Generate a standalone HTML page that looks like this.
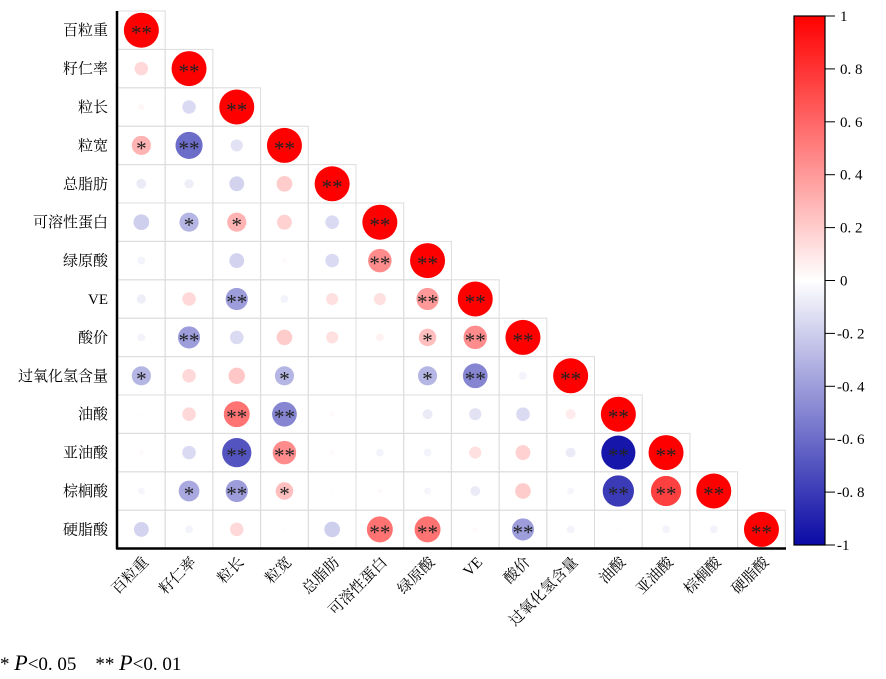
<!DOCTYPE html>
<html><head><meta charset="utf-8"><style>
body{margin:0;background:#fff;}
svg text{font-family:"Liberation Serif","Noto Serif CJK SC",serif;}
</style></head><body>
<svg id="chart" width="886" height="674" viewBox="0 0 886 674" xmlns="http://www.w3.org/2000/svg">
<defs><linearGradient id="cb" x1="0" y1="1" x2="0" y2="0">
<stop offset="0" stop-color="rgb(10,10,165)"/><stop offset="0.5" stop-color="#ffffff"/><stop offset="1" stop-color="rgb(255,0,0)"/>
</linearGradient></defs>
<g id="grid"></g>
<g id="marks"></g>
<g id="labels"></g>
<line x1="117" y1="11" x2="117" y2="549" stroke="#000" stroke-width="2.5"/>
<line x1="116" y1="548.5" x2="786" y2="548.5" stroke="#000" stroke-width="2.5"/>
<rect x="794" y="16" width="31" height="529" fill="url(#cb)" stroke="#000" stroke-width="1.2"/>
<g id="cbticks"></g>
<text x="0" y="670" font-size="19">* <tspan font-style="italic" font-size="22">P</tspan>&lt;0. 05　** <tspan font-style="italic" font-size="22">P</tspan>&lt;0. 01</text>
</svg>
<script>
const categories=["百粒重","籽仁率","粒长","粒宽","总脂肪","可溶性蛋白","绿原酸","VE","酸价","过氧化氢含量","油酸","亚油酸","棕榈酸","硬脂酸"];
const corr=[
[1],
[0.15,1],
[0.03,-0.15,1],
[0.3,-0.6,-0.12,1],
[-0.08,-0.07,-0.18,0.2,1],
[-0.2,-0.3,0.3,0.18,-0.15,1],
[-0.05,0,-0.18,0.02,-0.15,0.45,1],
[-0.07,0.15,-0.4,-0.05,0.12,0.12,0.4,1],
[-0.05,-0.4,-0.15,0.2,0.12,0.05,0.25,0.45,1],
[-0.3,0.15,0.22,-0.3,0,0.01,-0.3,-0.5,-0.05,1],
[0.01,0.15,0.55,-0.5,0.02,0,-0.08,-0.12,-0.15,0.08,1],
[0.02,-0.15,-0.7,0.45,0.02,-0.05,-0.05,0.12,0.18,-0.08,-0.95,1],
[-0.04,-0.35,-0.4,0.25,0.01,0.02,-0.04,-0.08,0.2,-0.04,-0.8,0.75,1],
[-0.18,-0.05,0.15,0.01,-0.2,0.55,0.55,0.02,-0.4,-0.05,0.01,-0.05,-0.05,1]];
const sig=[
["**"],
["","**"],
["","","**"],
["*","**","","**"],
["","","","","**"],
["","*","*","","","**"],
["","","","","","**","**"],
["","","**","","","","**","**"],
["","**","","","","","*","**","**"],
["*","","","*","","","*","**","","**"],
["","","**","**","","","","","","","**"],
["","","**","**","","","","","","","**","**"],
["","*","**","*","","","","","","","**","**","**"],
["","","","","","**","**","","**","","","","","**"]];
const cbTicks=["1","0. 8","0. 6","0. 4","0. 2","0","-0. 2","-0. 4","-0. 6","-0. 8","-1"];
const X0=117.5,CW=47.7,Y0=11,RH=38.4;
const cx=j=>X0+CW*(j+0.5), cy=i=>Y0+RH*(i+0.5);
function color(r){if(r>=0){const t=r;return `rgb(255,${Math.round(255*(1-t))},${Math.round(255*(1-t))})`;}
const t=-r;return `rgb(${Math.round(255-245*t)},${Math.round(255-245*t)},${Math.round(255-90*t)})`;}
const NS="http://www.w3.org/2000/svg";
const g=document.getElementById('grid'),m=document.getElementById('marks'),L=document.getElementById('labels'),cb=document.getElementById('cbticks');
const n=categories.length;
for(let i=0;i<n;i++){
 for(let j=0;j<=i;j++){
  const rc=document.createElementNS(NS,'rect');
  rc.setAttribute('x',X0+CW*j);rc.setAttribute('y',Y0+RH*i);rc.setAttribute('width',CW);rc.setAttribute('height',RH);
  rc.setAttribute('fill','none');rc.setAttribute('stroke','#dcdcdc');rc.setAttribute('stroke-width','1');
  
  
  g.appendChild(rc);
  const r=corr[i][j];
  const d=35*Math.sqrt(Math.abs(r));
  if(d>0.5){
   const c=document.createElementNS(NS,'circle');
   c.setAttribute('cx',cx(j));c.setAttribute('cy',cy(i));c.setAttribute('r',d/2);c.setAttribute('fill',color(r));
   
   
   m.appendChild(c);
  }
  if(sig[i][j]){
   const t=document.createElementNS(NS,'text');
   t.setAttribute('x',cx(j));t.setAttribute('y',cy(i)+10);t.setAttribute('text-anchor','middle');t.setAttribute('font-size','21');
   t.setAttribute('fill','#222');
   t.textContent=sig[i][j];
   
   
   m.appendChild(t);
  }
 }
 const yl=document.createElementNS(NS,'text');
 yl.setAttribute('x',108);yl.setAttribute('y',cy(i)+5);yl.setAttribute('text-anchor','end');yl.setAttribute('font-size','15');
 yl.textContent=categories[i];
 
 
 L.appendChild(yl);
 const xl=document.createElementNS(NS,'text');
 const ax=cx(i)+8,ay=563;
 xl.setAttribute('x',ax);xl.setAttribute('y',ay);xl.setAttribute('text-anchor','end');xl.setAttribute('font-size','15');
 xl.setAttribute('transform',`rotate(-45 ${ax} ${ay})`);
 xl.textContent=categories[i];
 
 
 L.appendChild(xl);
}
cbTicks.forEach((s,k)=>{
 const y=16+k*52.9;
 const ln=document.createElementNS(NS,'line');
 ln.setAttribute('x1',825);ln.setAttribute('x2',835);ln.setAttribute('y1',y);ln.setAttribute('y2',y);ln.setAttribute('stroke','#000');
 
 
 cb.appendChild(ln);
 const t=document.createElementNS(NS,'text');
 t.setAttribute('x',s.startsWith('-')?837:840);t.setAttribute('y',y+5);t.setAttribute('font-size','15');
 t.textContent=s;
 
 
 cb.appendChild(t);
});
</script>
</body></html>
